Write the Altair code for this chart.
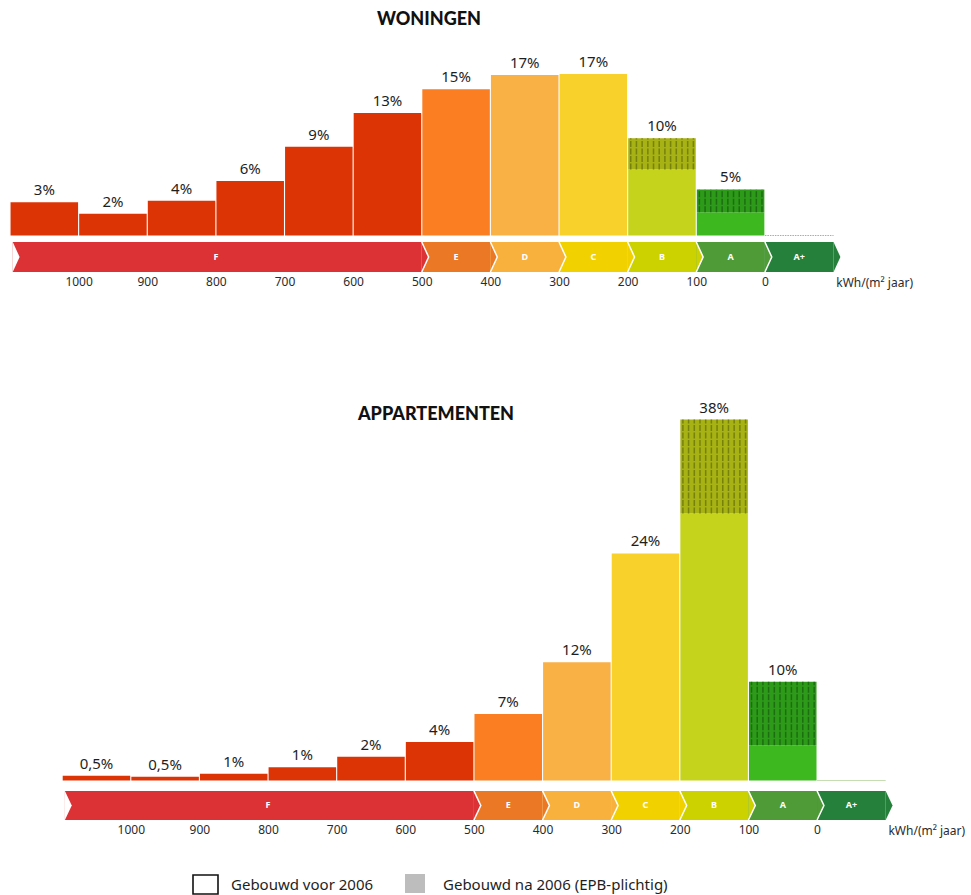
import altair as alt
import pandas as pd

# ---------------- data ----------------
bin_from = [1100, 1000, 900, 800, 700, 600, 500, 400, 300, 200, 100, 0]
bin_to = [1000, 900, 800, 700, 600, 500, 400, 300, 200, 100, 0, -100]
bar_colors = ["#DD3405", "#DD3405", "#DD3405", "#DD3405", "#DD3405", "#DD3405",
              "#FB7E22", "#F9B146", "#F8D12A", "#C5D31C", "#3DB81E", "#3DB81E"]
hatch_fill = ["", "", "", "", "", "", "", "", "", "#A7B214", "#2E9A19", ""]
hatch_stripe = ["", "", "", "", "", "", "", "", "", "#67720A", "#16600F", ""]

won_voor = [3.5, 2.3, 3.65, 5.75, 9.35, 12.9, 15.4, 16.9, 17.0, 6.95, 2.45, 0]
won_na = [0, 0, 0, 0, 0, 0, 0, 0, 0, 3.3, 2.4, 0]
won_labels = ["3%", "2%", "4%", "6%", "9%", "13%", "15%", "17%", "17%", "10%", "5%", ""]

app_voor = [0.5, 0.4, 0.7, 1.4, 2.5, 4.05, 7.0, 12.45, 23.9, 28.1, 3.7, 0]
app_na = [0, 0, 0, 0, 0, 0, 0, 0, 0, 9.9, 6.7, 0]
app_labels = ["0,5%", "0,5%", "1%", "1%", "2%", "4%", "7%", "12%", "24%", "38%", "10%", ""]

band_labels = ["F", "E", "D", "C", "B", "A", "A+"]
band_from = [1100, 500, 400, 300, 200, 100, 0]
band_to = [500, 400, 300, 200, 100, 0, -100]
band_colors = ["#DC3236", "#EB7824", "#F9B13D", "#F2D100", "#CCD200", "#4E9B37", "#24803A"]

tick_values = [1000, 900, 800, 700, 600, 500, 400, 300, 200, 100, 0]
unit_label = "kWh/(m² jaar)"
titles = ["WONINGEN", "APPARTEMENTEN"]
legend_labels = ["Gebouwd voor 2006", "Gebouwd na 2006 (EPB-plichtig)"]

FONT = "Noto Sans"
TIP = 10      # chevron depth in kWh units
W = 875

AX = alt.Axis(values=tick_values, format="d", labelFontSize=12, labelColor="#2b2b2b",
              labelFont=FONT, ticks=False, domain=False, grid=False,
              labelPadding=4, title=None, labelFlush=False, labelOverlap=False)


def make_panel(title, voor, na, labels, xdom, ydom, band_top, band_bottom,
               height, title_x, title_y, unit_y, aplus_color, aplus_dash):
    xs = alt.Scale(domain=xdom, nice=False, zero=False)
    ys = alt.Scale(domain=ydom, nice=False, zero=False)
    df = pd.DataFrame({"x0": bin_from, "x1": bin_to, "voor": voor, "na": na,
                       "label": labels, "color": bar_colors,
                       "hfill": hatch_fill, "hstripe": hatch_stripe})
    df["total"] = df["voor"] + df["na"]
    df["mid"] = (df["x0"] + df["x1"]) / 2
    base = alt.Chart(df)

    bars = base.transform_filter("datum.voor > 0").transform_calculate(
        xa="datum.x0 - 0.8", xb="datum.x1 + 0.8"
    ).mark_rect().encode(
        x=alt.X("xa:Q", scale=xs, axis=AX),
        x2="xb:Q",
        y=alt.Y("voor:Q", scale=ys, axis=None, stack=None),
        y2=alt.datum(0),
        color=alt.Color("color:N", scale=None),
    )

    hatch = base.transform_filter("datum.na > 0").transform_calculate(
        xa="datum.x0 - 0.8", xb="datum.x1 + 0.8"
    ).mark_rect().encode(
        x=alt.X("xa:Q", scale=xs, axis=AX),
        x2="xb:Q",
        y=alt.Y("voor:Q", scale=ys, axis=None, stack=None),
        y2="total:Q",
        color=alt.Color("hfill:N", scale=None),
    )

    rows = []
    for i in range(len(bin_from)):
        if na[i] > 0:
            for k in range(12):
                rows.append({"x": bin_from[i] - 4.5 - 8.3 * k, "y0": voor[i],
                             "y1": voor[i] + na[i], "c": hatch_stripe[i]})
    stripes = alt.Chart(pd.DataFrame(rows)).mark_rule(
        strokeWidth=1.5, strokeDash=[6, 1.5], opacity=0.75
    ).encode(
        x=alt.X("x:Q", scale=xs, axis=AX),
        y=alt.Y("y0:Q", scale=ys, axis=None),
        y2="y1:Q",
        color=alt.Color("c:N", scale=None),
    )

    aplus = base.transform_filter("datum.total == 0").mark_rule(
        color=aplus_color, strokeWidth=1.2, strokeDash=aplus_dash
    ).encode(
        x=alt.X("x0:Q", scale=xs, axis=AX),
        x2="x1:Q",
        y=alt.Y("total:Q", scale=ys, axis=None),
    )

    pct = base.mark_text(font=FONT, fontSize=15, baseline="alphabetic", dy=-7,
                         color="#1e1e1e").encode(
        x=alt.X("mid:Q", scale=xs, axis=AX),
        y=alt.Y("total:Q", scale=ys, axis=None),
        text="label:N",
    )

    # ---- energy label band ----
    band_mid = (band_top + band_bottom) / 2
    bdf = pd.DataFrame({"seg": band_labels, "b0": band_from, "b1": band_to,
                        "color": band_colors})
    bdf["bm"] = (bdf["b0"] + bdf["b1"]) / 2
    band_rect = alt.Chart(bdf).transform_calculate(
        xa="datum.seg == 'F' ? datum.b0 - 4 : datum.b0"
    ).mark_rect().encode(
        x=alt.X("xa:Q", scale=xs, axis=AX),
        x2="b1:Q",
        y=alt.Y(datum=band_top, scale=ys, axis=None),
        y2=alt.datum(band_bottom),
        color=alt.Color("color:N", scale=None),
    )

    tip_rows, chev_rows = [], []
    for s, b1, c in zip(band_labels, band_to, band_colors):
        tip_rows.append({"seg": s, "x": b1, "y": band_top, "y2": band_bottom, "c": c})
        tip_rows.append({"seg": s, "x": b1 - TIP, "y": band_mid, "y2": band_mid, "c": c})
        if s != "A+":
            chev_rows.append({"seg": s, "x": b1, "y": band_top, "k": 0})
            chev_rows.append({"seg": s, "x": b1 - TIP, "y": band_mid, "k": 1})
            chev_rows.append({"seg": s, "x": b1, "y": band_bottom, "k": 2})
    tips = alt.Chart(pd.DataFrame(tip_rows)).mark_area(orient="vertical").encode(
        x=alt.X("x:Q", scale=xs, axis=AX),
        y=alt.Y("y:Q", scale=ys, axis=None, stack=None),
        y2="y2:Q",
        color=alt.Color("c:N", scale=None),
        detail="seg:N",
    )
    notch_df = pd.DataFrame({"x": [band_from[0] - 4, band_from[0] - 4 - TIP],
                             "y": [band_top, band_mid], "y2": [band_bottom, band_mid]})
    notch = alt.Chart(notch_df).mark_area(orient="vertical", color="white").encode(
        x=alt.X("x:Q", scale=xs, axis=AX),
        y=alt.Y("y:Q", scale=ys, axis=None, stack=None),
        y2="y2:Q",
    )
    chev = alt.Chart(pd.DataFrame(chev_rows)).mark_line(
        color="white", strokeWidth=1.5
    ).encode(
        x=alt.X("x:Q", scale=xs, axis=AX),
        y=alt.Y("y:Q", scale=ys, axis=None),
        detail="seg:N",
        order="k:Q",
    )
    band_text = alt.Chart(bdf).mark_text(
        font=FONT, fontSize=9, fontWeight="bold", color="white", baseline="middle"
    ).encode(
        x=alt.X("bm:Q", scale=xs, axis=AX),
        y=alt.Y(datum=band_mid, scale=ys, axis=None),
        text="seg:N",
    )

    tdf = pd.DataFrame({"t": [title], "u": [unit_label]})
    title_mark = alt.Chart(tdf).mark_text(
        font="Lato", fontSize=18, fontWeight=900, color="#111111", baseline="middle"
    ).encode(x=alt.value(title_x), y=alt.value(title_y), text="t:N")
    unit_mark = alt.Chart(tdf).mark_text(
        font=FONT, fontSize=12, color="#2b2b2b", align="left", baseline="middle"
    ).encode(x=alt.X(datum=-104, scale=xs, axis=AX), y=alt.value(unit_y), text="u:N")

    return alt.layer(bars, hatch, stripes, aplus, pct, band_rect, tips, notch, chev,
                     band_text, title_mark, unit_mark).properties(width=W, height=height)


p1 = make_panel(titles[0], won_voor, won_na, won_labels,
                xdom=[1100, -175], ydom=[-3.84, 23.74], band_top=-0.68, band_bottom=-3.84,
                height=262, title_x=419, title_y=10, unit_y=273,
                aplus_color="#9FB39A", aplus_dash=[1.5, 1])
p2 = make_panel(titles[1], app_voor, app_na, app_labels,
                xdom=[1176, -99], ydom=[-4.16, 40.58], band_top=-1.1, band_bottom=-4.16,
                height=425, title_x=426, title_y=20, unit_y=436,
                aplus_color="#C6DDB3", aplus_dash=[1, 0])

ldf = pd.DataFrame({"label": legend_labels})
leg_box1 = alt.Chart(ldf).transform_filter(alt.datum.label == legend_labels[0]).mark_rect(
    fill="white", stroke="#111111", strokeWidth=1.6
).encode(x=alt.value(183), x2=alt.value(208), y=alt.value(1), y2=alt.value(20))
leg_box2 = alt.Chart(ldf).transform_filter(alt.datum.label == legend_labels[1]).mark_rect(
    fill="#BDBDBD"
).encode(x=alt.value(395), x2=alt.value(415), y=alt.value(0), y2=alt.value(19))
leg_t1 = alt.Chart(ldf).transform_filter(alt.datum.label == legend_labels[0]).mark_text(
    font=FONT, fontSize=15, color="#1e1e1e", align="left", baseline="middle"
).encode(x=alt.value(221), y=alt.value(11), text="label:N")
leg_t2 = alt.Chart(ldf).transform_filter(alt.datum.label == legend_labels[1]).mark_text(
    font=FONT, fontSize=15, color="#1e1e1e", align="left", baseline="middle"
).encode(x=alt.value(433), y=alt.value(11), text="label:N")
legend = alt.layer(leg_box1, leg_box2, leg_t1, leg_t2).properties(width=W, height=20)

inner = alt.vconcat(p1, p2, spacing=106).resolve_scale(x="independent", y="independent")
chart = alt.vconcat(inner, legend, spacing=37).resolve_scale(
    x="independent", y="independent"
).properties(
    padding={"left": 10, "top": 10, "right": 0, "bottom": 0},
    background="white",
).configure_view(stroke=None)

chart.save("out.html", embed_options={"renderer": "svg", "actions": False})
